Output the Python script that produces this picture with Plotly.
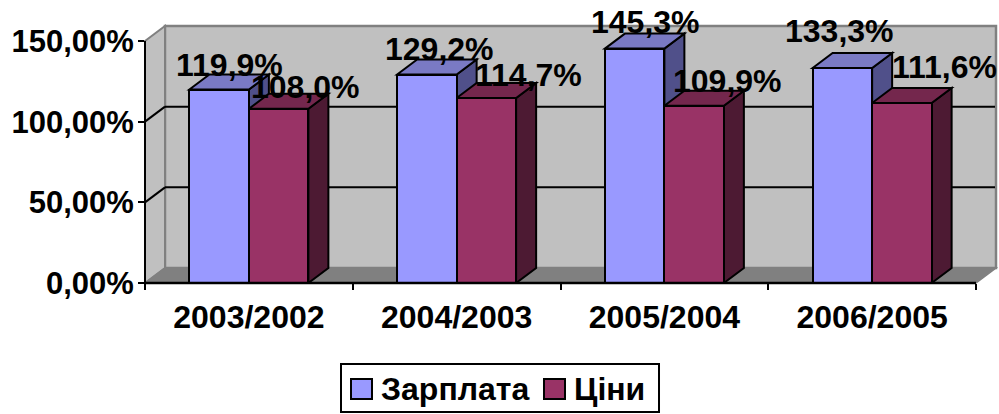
import plotly.graph_objects as go

categories = ["2003/2002", "2004/2003", "2005/2004", "2006/2005"]
series_names = ["Зарплата", "Ціни"]
salary = [119.9, 129.2, 145.3, 133.3]
prices = [108.0, 114.7, 109.9, 111.6]
y_ticks = [0, 50, 100, 150]
y_tick_labels = ["0,00%", "50,00%", "100,00%", "150,00%"]

FONT = "Liberation Sans"
W, H = 999, 414
L, R, T, B = 145, 996, 26, 283        # plot box in px
FRONT_R, FRONT_T = 976, 41            # front plane right edge / 150 % level
DX_PX, DY_PX = 20, 15                 # 3D depth
X_UNIT = (FRONT_R - L) / len(categories)
Y_UNIT = (B - FRONT_T) / 150
DX, DY = DX_PX / X_UNIT, DY_PX / Y_UNIT
BAR_W = 59.5 / X_UNIT

series = [
    dict(name=series_names[0], vals=salary, col="#9999FF", top="#7A7AC4", side="#50508A", off=-BAR_W),
    dict(name=series_names[1], vals=prices, col="#993366", top="#74274D", side="#4D1A33", off=0.0),
]
# label nudges in px: from (bar centre, bar top)
label_nudge = [
    [(10, -25), (13, -26), (11, -27), (-3, -37)],
    [(27, -22), (42, -23), (33, -25), (43, -36)],
]


def px(x):
    return (x - L) / (R - L)


def py(y):
    return (B - y) / (B - T)


def poly(points, fill, line="black", width=2, layer="below"):
    d = "M" + "L".join(f"{px(a):.5f},{py(b):.5f}" for a, b in points) + "Z"
    return dict(type="path", xref="paper", yref="paper", path=d, fillcolor=fill,
                line=dict(color=line, width=width), layer=layer)


def seg(x0, y0, x1, y1, color="black", width=2, layer="below"):
    return dict(type="line", xref="paper", yref="paper", x0=px(x0), y0=py(y0), x1=px(x1), y1=py(y1),
                line=dict(color=color, width=width), layer=layer)


GRAY = "#808080"
shapes = []
# walls and floor
shapes.append(poly([(L + DX_PX, T), (R, T), (R, B - DY_PX), (L + DX_PX, B - DY_PX)], "#C0C0C0", GRAY, 2.5))
shapes.append(poly([(L, FRONT_T), (L + DX_PX, T), (L + DX_PX, B - DY_PX), (L, B)], "#C0C0C0", GRAY, 2))
shapes.append(poly([(L, B), (L + DX_PX, B - DY_PX), (R, B - DY_PX), (FRONT_R, B)], GRAY, GRAY, 1.5))
# gridlines
for t in y_ticks[1:-1]:
    yf = B - t * Y_UNIT
    shapes.append(seg(L + DX_PX, yf - DY_PX, R - 1, yf - DY_PX))
    shapes.append(seg(L, yf, L + DX_PX, yf - DY_PX))


def face(pts, fill):
    d = "M" + "L".join(f"{a:.4f},{b:.4f}" for a, b in pts) + "Z"
    return dict(type="path", xref="x", yref="y", path=d, fillcolor=fill,
                line=dict(color="black", width=2), layer="below")


# depth faces of bars, computed from the data
for s in series:
    for i, v in enumerate(s["vals"]):
        x0 = i + s["off"]
        x1 = x0 + BAR_W
        shapes.append(face([(x1, 0), (x1 + DX, DY), (x1 + DX, v + DY), (x1, v)], s["side"]))
        shapes.append(face([(x0, v), (x0 + DX, v + DY), (x1 + DX, v + DY), (x1, v)], s["top"]))

# front axes
shapes.append(seg(L, FRONT_T, L, B + 1, layer="above"))
shapes.append(seg(L, B, FRONT_R, B, width=2.5, layer="above"))

fig = go.Figure()
for s in series:
    fig.add_trace(go.Bar(
        x=list(range(len(categories))), y=s["vals"], name=s["name"], width=BAR_W, offset=s["off"],
        marker=dict(color=s["col"], line=dict(color="black", width=2)), showlegend=False,
    ))

annotations = []
for s, nudges in zip(series, label_nudge):
    for i, v in enumerate(s["vals"]):
        annotations.append(dict(
            x=i + s["off"] + BAR_W / 2, y=v, xref="x", yref="y",
            text=f"{v:.1f}%".replace(".", ","), showarrow=False,
            xshift=nudges[i][0], yshift=-nudges[i][1], xanchor="center", yanchor="middle",
            font=dict(family=FONT, size=32, color="black", weight="bold"),
        ))

# legend box
LEG = (341, 364, 659, 412)
shapes.append(poly([(LEG[0], LEG[1]), (LEG[2], LEG[1]), (LEG[2], LEG[3]), (LEG[0], LEG[3])], "white", "black", 2, "above"))
for s, sx, tx in zip(series, (351, 544), (379, 572)):
    shapes.append(poly([(sx, 379), (sx + 21, 379), (sx + 21, 399), (sx, 399)], s["col"], "black", 2, "above"))
    annotations.append(dict(
        x=px(tx), y=py(389), xref="paper", yref="paper", text=s["name"], showarrow=False,
        xanchor="left", yanchor="middle", font=dict(family=FONT, size=32, color="black", weight="bold"),
    ))

fig.update_layout(
    width=W, height=H, autosize=False,
    margin=dict(l=L, r=W - R, t=T, b=H - B, pad=0),
    paper_bgcolor="white", plot_bgcolor="rgba(0,0,0,0)",
    bargap=0, showlegend=False, shapes=shapes, annotations=annotations,
    font=dict(family=FONT, color="black"),
    xaxis=dict(
        range=[-0.5, -0.5 + (R - L) / X_UNIT], tickmode="array", tickvals=list(range(len(categories))),
        ticktext=categories, ticks="outside", ticklen=6, tickcolor="rgba(0,0,0,0)",
        tickfont=dict(family=FONT, size=32, color="black", weight="bold"),
        showgrid=False, zeroline=False, showline=False,
        minor=dict(tickmode="array", tickvals=[i - 0.5 for i in range(len(categories) + 1)],
                   ticks="outside", ticklen=6, tickwidth=2, tickcolor="black", showgrid=False),
    ),
    yaxis=dict(
        range=[0, (B - T) / Y_UNIT], tickmode="array", tickvals=y_ticks, ticktext=y_tick_labels,
        ticks="outside", ticklen=6, tickwidth=2, tickcolor="black",
        tickfont=dict(family=FONT, size=31, color="black", weight="bold"),
        showgrid=False, zeroline=False, showline=False, ticklabelstandoff=-2,
    ),
)

fig.write_html("out.html", config={"displayModeBar": False},
               post_script="document.body.style.margin='0';document.body.style.overflow='hidden';")
